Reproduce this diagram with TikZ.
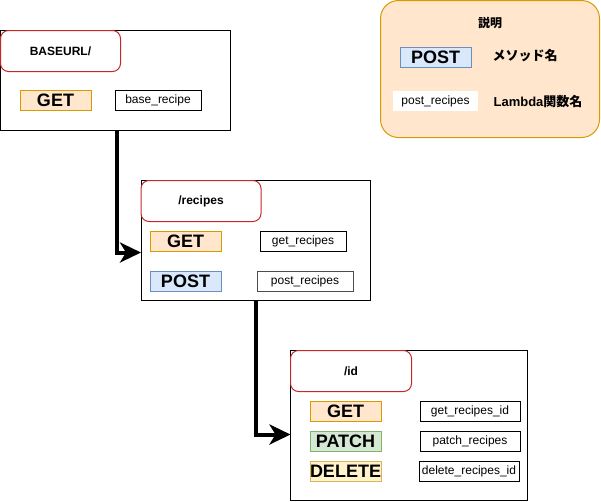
\documentclass[tikz,border=0pt]{standalone}
\usepackage{fontspec}
\setmainfont{Liberation Sans}
\newfontfamily\jp{Noto Sans CJK JP}
\usetikzlibrary{arrows.meta,calc}
\definecolor{orangeF}{HTML}{FFE6CC}
\definecolor{orangeD}{HTML}{D79B00}
\definecolor{blueF}{HTML}{DAE8FC}
\definecolor{blueD}{HTML}{6C8EBF}
\definecolor{greenF}{HTML}{D5E8D4}
\definecolor{greenD}{HTML}{82B366}
\definecolor{yellowF}{HTML}{FFF2CC}
\definecolor{yellowD}{HTML}{D6B656}
\definecolor{redc}{HTML}{C62828}
\begin{document}
\begin{tikzpicture}[x=1pt,y=-1pt,
  every node/.style={inner sep=0pt, outer sep=0pt},
  frame/.style={draw=black, line width=1pt, fill=white, anchor=north west},
  titlebox/.style={draw=redc, line width=1pt, rounded corners=8pt, fill=white, anchor=north west,
     minimum height=41pt, font=\fontsize{12}{14}\selectfont\bfseries},
  meth/.style={line width=1pt, minimum width=71pt, minimum height=20pt, font=\fontsize{18}{20}\selectfont\bfseries},
  getm/.style={meth, fill=orangeF, draw=orangeD},
  postm/.style={meth, fill=blueF, draw=blueD},
  patchm/.style={meth, fill=greenF, draw=greenD},
  delm/.style={meth, fill=yellowF, draw=yellowD},
  fn/.style={draw=black, line width=1pt, minimum height=20pt, fill=white, font=\fontsize{12}{14}\selectfont},
  lbl/.style={font=\fontsize{13}{15}\selectfont\bfseries},
  conn/.style={line width=4pt, -{Stealth[length=21pt,width=20pt,inset=6pt]}}
]
\useasboundingbox (0,0) rectangle (601,501);

% legend
\node[draw=orangeD, fill=orangeF, line width=1pt, rounded corners=18pt, minimum width=219pt, minimum height=137pt, anchor=north west] (leg) at (380.5,0.5) {};
\node[lbl, font=\fontsize{12}{14}\selectfont\bfseries\jp] (legt) at (490,23) {説明};
\node[postm] (legpost) at (435.5,57) {POST};
\node[lbl, font=\fontsize{13}{15}\selectfont\bfseries\jp] (legm) at (525,56) {メソッド名};
\node[fn, draw=none, minimum width=85pt] (legfn) at (435.5,101) {post\_recipes};
\node[lbl] (legl) at (538,102) {Lambda{\jp 関数名}};

% box 1
\node[frame, minimum width=230pt, minimum height=100pt] (b1) at (0.5,30.5) {};
\node[titlebox, minimum width=120pt] (t1) at (0.5,30.5) {BASEURL/};
\node[getm] (g1) at (55.5,100) {GET};
\node[fn, minimum width=86pt] (f1) at (158,100) {base\_recipe};

% box 2
\node[frame, minimum width=229pt, minimum height=120pt] (b2) at (141,180.5) {};
\node[titlebox, minimum width=120pt] (t2) at (141,180.5) {/recipes};
\node[getm] (g2) at (185.5,241) {GET};
\node[fn, minimum width=86pt] (f2) at (303,241) {get\_recipes};
\node[postm] (p2) at (185.5,281) {POST};
\node[fn, draw=black!70, minimum width=96pt] (f3) at (305,281) {post\_recipes};

% box 3
\node[frame, minimum width=237pt, minimum height=150pt] (b3) at (290.5,350.5) {};
\node[titlebox, minimum width=121pt] (t3) at (290.5,350.5) {/id};
\node[getm] (g3) at (345.5,411) {GET};
\node[fn, minimum width=100pt] (f4) at (470,411) {get\_recipes\_id};
\node[patchm] (p3) at (345.5,441) {PATCH};
\node[fn, minimum width=100pt] (f5) at (470,441) {patch\_recipes};
\node[delm] (d3) at (345.5,471) {DELETE};
\node[fn, minimum width=100pt] (f6) at (469,471) {delete\_recipes\_id};

% connectors
\draw[conn] ($(b1.south west)+(116,0)$) |- ($(b2.north west)+(0,72)$);
\draw[conn] ($(b2.south west)+(115,0)$) |- ($(b3.north west)+(0,84)$);
\end{tikzpicture}
\end{document}
